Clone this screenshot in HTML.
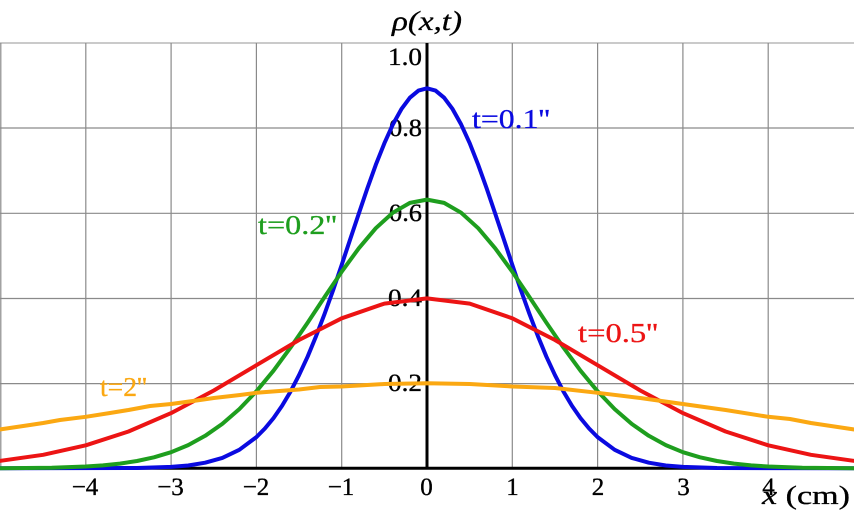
<!DOCTYPE html>
<html><head><meta charset="utf-8"><style>
html,body{margin:0;padding:0;background:#fff;}
svg{display:block;}
text{font-family:"Liberation Serif",serif;}
</style></head><body>
<svg width="854" height="512" viewBox="0 0 854 512" xmlns="http://www.w3.org/2000/svg">
<rect width="854" height="512" fill="#fff"/>
<!-- grid -->
<g stroke="#8a8a8a" stroke-width="1.2" fill="none">
<line x1="0" y1="43" x2="854" y2="43" stroke="#b8b8b8" stroke-width="1.5"/>
<line x1="0" y1="128" x2="854" y2="128"/>
<line x1="0" y1="213.3" x2="854" y2="213.3"/>
<line x1="0" y1="298.5" x2="854" y2="298.5"/>
<line x1="0" y1="383.6" x2="854" y2="383.6"/>
<line x1="0.8" y1="43" x2="0.8" y2="468"/>
<line x1="85.8" y1="43" x2="85.8" y2="468"/>
<line x1="171.1" y1="43" x2="171.1" y2="468"/>
<line x1="256.4" y1="43" x2="256.4" y2="468"/>
<line x1="341.7" y1="43" x2="341.7" y2="468"/>
<line x1="512.3" y1="43" x2="512.3" y2="468"/>
<line x1="597.6" y1="43" x2="597.6" y2="468"/>
<line x1="682.9" y1="43" x2="682.9" y2="468"/>
<line x1="768.2" y1="43" x2="768.2" y2="468"/>
</g>
<!-- axes -->
<line x1="427" y1="43" x2="427" y2="469.5" stroke="#000" stroke-width="3"/>
<line x1="0" y1="468.3" x2="854" y2="468.3" stroke="#000" stroke-width="3"/>
<!-- tick labels -->
<g font-size="25" fill="#000" stroke="#000" stroke-width="0.35">
<g text-anchor="end">
<text x="422" y="65" textLength="34" lengthAdjust="spacingAndGlyphs">1.0</text>
<text x="422" y="136" textLength="33" lengthAdjust="spacingAndGlyphs">0.8</text>
<text x="422" y="221" textLength="33" lengthAdjust="spacingAndGlyphs">0.6</text>
<text x="422" y="306" textLength="34" lengthAdjust="spacingAndGlyphs">0.4</text>
<text x="422" y="391" textLength="34" lengthAdjust="spacingAndGlyphs">0.2</text>
</g>
<g text-anchor="middle">
<text x="85" y="495">−4</text>
<text x="170.5" y="495">−3</text>
<text x="256" y="495">−2</text>
<text x="341" y="495">−1</text>
<text x="426.5" y="495">0</text>
<text x="512.5" y="495">1</text>
<text x="598" y="495">2</text>
<text x="683.5" y="495">3</text>
<text x="768.5" y="495">4</text>
</g>
</g>
<!-- curves -->
<g fill="none" stroke-width="4" stroke-linejoin="round" stroke-linecap="round">
<polyline stroke="#0a0ae0" points="-6,468.3 137.0,468.0 171.1,466.9 188.2,465.5 205.2,462.7 222.3,457.9 239.3,449.8 256.4,437.1 264.9,428.5 273.5,418.1 282.0,405.9 290.5,391.6 299.0,375.2 307.6,356.7 316.1,336.1 324.6,313.8 333.2,289.9 341.7,264.9 350.2,239.2 358.8,213.6 367.3,188.5 375.8,164.8 384.4,143.2 392.9,124.4 401.4,109.1 409.9,97.7 418.5,90.6 427,88.3 435.5,90.6 444.1,97.7 452.6,109.1 461.1,124.4 469.7,143.2 478.2,164.8 486.7,188.5 495.2,213.6 503.8,239.2 512.3,264.9 520.8,289.9 529.4,313.8 537.9,336.1 546.4,356.7 555.0,375.2 563.5,391.6 572.0,405.9 580.5,418.1 589.1,428.5 597.6,437.1 614.7,449.8 631.7,457.9 648.8,462.7 665.8,465.5 682.9,466.9 717.0,468.0 860,468.3"/>
<polyline stroke="#1e9e1e" points="-6,468.3 51.7,467.7 85.8,466.5 102.9,465.4 119.9,463.6 137.0,461.0 154.0,457.3 171.1,452.2 188.2,445.1 205.2,435.8 222.3,423.9 239.3,409.1 256.4,391.3 273.5,370.7 290.5,347.6 307.6,322.7 324.6,297.0 341.7,271.7 358.8,248.3 375.8,228.2 392.9,212.7 409.9,202.9 427,199.6 444.1,202.9 461.1,212.7 478.2,228.2 495.2,248.3 512.3,271.7 529.4,297.0 546.4,322.7 563.5,347.6 580.5,370.7 597.6,391.3 614.7,409.1 631.7,423.9 648.8,435.8 665.8,445.1 682.9,452.2 700.0,457.3 717.0,461.0 734.1,463.6 751.1,465.4 768.2,466.5 802.3,467.7 860,468.3"/>
<polyline stroke="#ec1414" points="-6,461.3 0.5,460.8 43.2,454.8 85.8,445.3 128.5,431.5 171.1,413.1 213.8,390.5 256.4,365.2 299.0,340.0 341.7,318.3 384.4,303.6 427,298.4 469.7,303.6 512.3,318.3 555.0,340.0 597.6,365.2 640.3,390.5 682.9,413.1 725.6,431.5 768.2,445.3 810.9,454.8 853.5,460.8 860,461.3"/>
<polyline stroke="#fba812" points="-6,430 0.5,429.4 30,425 43.2,423.0 60,420 85.8,416.8 110,413 128.5,410 150,406 171.1,404 200,400 213.8,398 240,395 256.4,392.8 299,389.5 320,387 341.7,386.5 384.4,384 427,383.3 469.7,384 512.3,386.5 555,388 597.6,392.8 640.3,398 682.9,404 725.6,410 768.2,416.8 790,419 810.9,423 853.5,429.4 860,430"/>
</g>
<!-- curve labels -->
<g font-size="27" stroke-width="0.3">
<text x="472" y="128" fill="#0a0ae0" stroke="#0a0ae0" textLength="78" lengthAdjust="spacingAndGlyphs">t=0.1''</text>
<text x="258" y="234" fill="#1e9e1e" stroke="#1e9e1e" textLength="79" lengthAdjust="spacingAndGlyphs">t=0.2''</text>
<text x="578" y="342" fill="#ec1414" stroke="#ec1414" textLength="80" lengthAdjust="spacingAndGlyphs">t=0.5''</text>
<text x="100" y="396" fill="#fba812" stroke="#fba812" textLength="47" lengthAdjust="spacingAndGlyphs">t=2''</text>
</g>
<!-- axis titles -->
<text x="392" y="30" font-size="27" font-style="italic" fill="#000" stroke="#000" stroke-width="0.3" textLength="70" lengthAdjust="spacingAndGlyphs">ρ(x,t)</text>
<text x="762" y="504" font-size="26" fill="#000" stroke="#000" stroke-width="0.3" textLength="88" lengthAdjust="spacingAndGlyphs"><tspan font-style="italic">x</tspan> (cm)</text>
</svg>
</body></html>
